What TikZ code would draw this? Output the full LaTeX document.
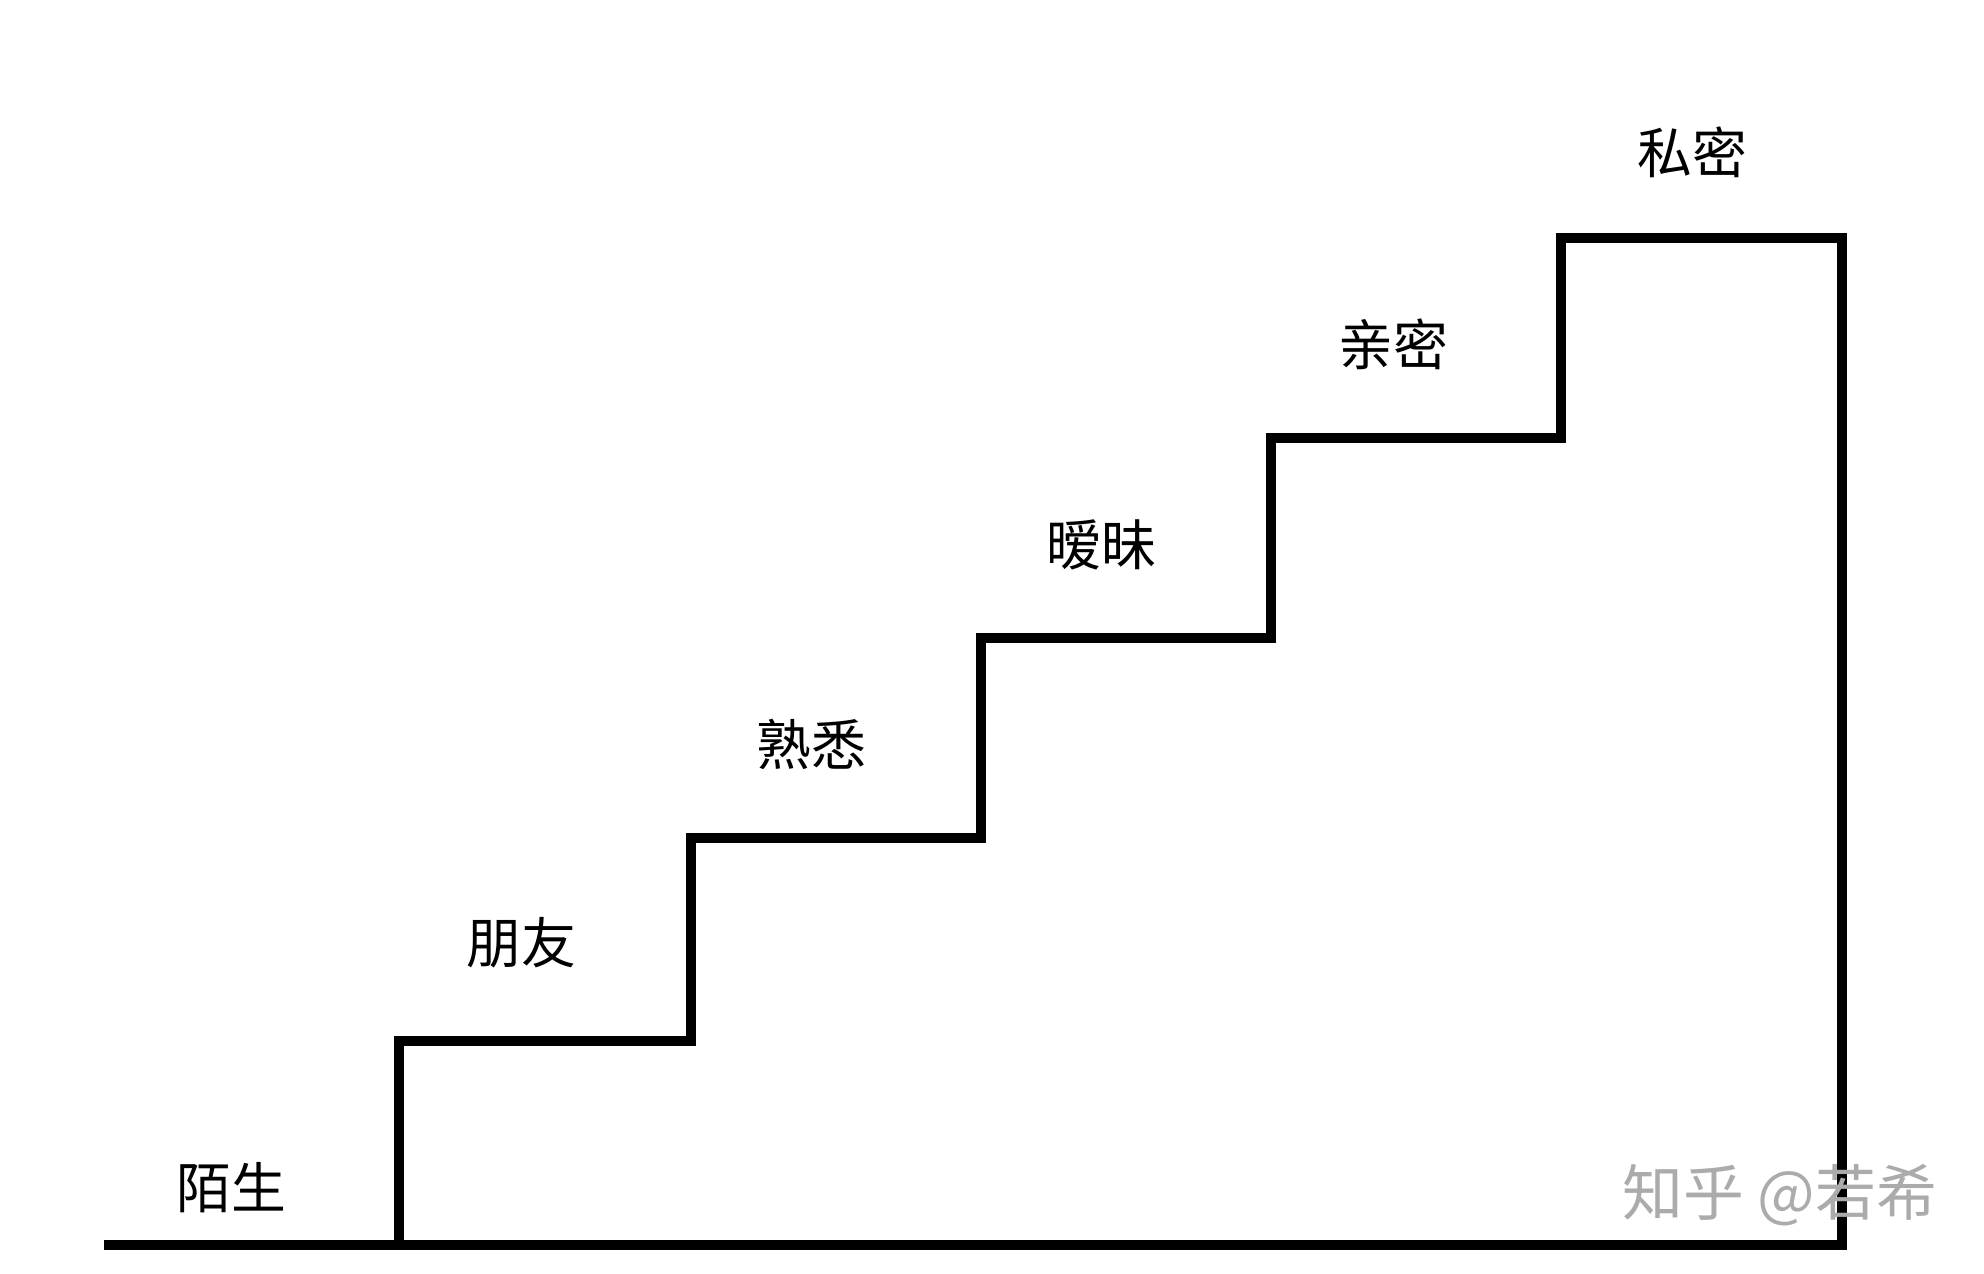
\documentclass[tikz,border=0pt]{standalone}
\usepackage{fontspec}
\newfontfamily\cjk{Noto Sans CJK SC}
\begin{document}
\begin{tikzpicture}[x=0.01cm,y=-0.01cm,
  stair/.style={line width=0.1cm, line join=miter, black},
  lbl/.style={font=\cjk\fontsize{15.6}{18}\selectfont, inner sep=0pt, text=black},
  wm/.style={font=\cjk\fontsize{17.3}{20}\selectfont, inner sep=0pt, text=black!33}]
\useasboundingbox (0,0) rectangle (1984,1274);
\fill[white] (0,0) rectangle (1984,1274);
% staircase
\draw[stair] (104,1245) -- (1842,1245);
\draw[stair] (399,1245) -- (399,1041) -- (691,1041) -- (691,838) -- (981,838)
  -- (981,638) -- (1271,638) -- (1271,438) -- (1561,438) -- (1561,238)
  -- (1842,238) -- (1842,1250);
% labels
\node[lbl] (l1) at (231,1188) {陌生};
\node[lbl] (l2) at (521,943) {朋友};
\node[lbl] (l3) at (811,744) {熟悉};
\node[lbl] (l4) at (1101,545) {暧昧};
\node[lbl] (l5) at (1393,344) {亲密};
\node[lbl] (l6) at (1692,152) {私密};
% watermark
\node[wm, anchor=west] (wm) at (1622,1195) {知乎 @若希};
\end{tikzpicture}
\end{document}
